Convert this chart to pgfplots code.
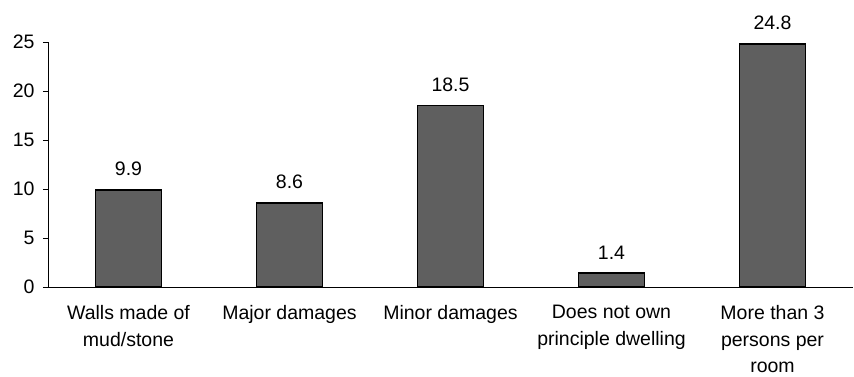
\documentclass[border=0pt]{standalone}
\usepackage{fontspec}
\setmainfont{Liberation Sans}
\usepackage{pgfplots}
\pgfplotsset{compat=1.18}
\begin{document}
\begin{tikzpicture}[x=1pt,y=1pt]
\useasboundingbox (-48,-90) rectangle (806,287);
\begin{axis}[
  at={(0,0)}, anchor=south west,
  scale only axis, width=805pt, height=245pt,
  xmin=-0.5, xmax=4.5, ymin=0, ymax=25,
  axis lines*=left,
  axis line style={line width=0.8pt},
  ytick={0,5,10,15,20,25},
  tick align=outside,
  major tick length=5pt,
  tick style={black, line width=0.6pt},
  xtick={0,1,2,3,4},
  xticklabels={{Walls made of\\mud/stone},{Major damages},{Minor damages},{Does not own\\principle dwelling},{More than 3\\persons per\\room}},
  x tick style={draw=none},
  extra x ticks={0.5,1.5,2.5,3.5},
  extra x tick labels={},
  extra x tick style={tick style={black, line width=0.6pt, draw=black}, major tick length=5pt},
  xticklabel style={align=center, font=\fontsize{19.5}{26.5}\selectfont, yshift=-10pt},
  yticklabel style={font=\fontsize{19.5}{22}\selectfont, xshift=-5pt},
  /pgf/number format/assume math mode=true,
  ybar, bar width=66pt,
  nodes near coords,
  nodes near coords style={font=\fontsize{19.5}{22}\selectfont, yshift=10pt, /pgf/number format/.cd, fixed, precision=1},
  clip=false,
]
\addplot[draw=black, line width=1.6pt, fill={rgb,255:red,95;green,95;blue,95}] coordinates {(0,9.9) (1,8.6) (2,18.5) (3,1.4) (4,24.8)};
\end{axis}
\end{tikzpicture}
\end{document}
